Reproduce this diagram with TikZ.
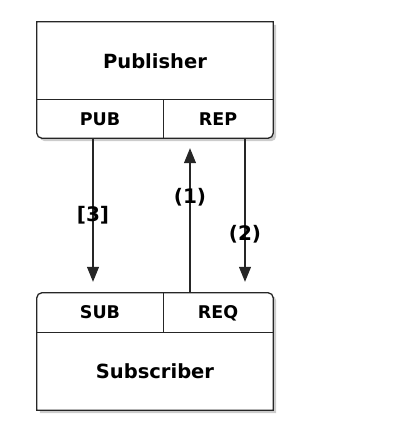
\documentclass[tikz,border=0pt]{standalone}
\usepackage{fontspec}
\setmainfont{DejaVu Sans}
\usetikzlibrary{arrows.meta}
\usetikzlibrary{shadows}
\usetikzlibrary{backgrounds}
\tikzset{cell/.style={rectangle, inner sep=0pt, text height=12.8pt, text depth=0pt,
    font=\bfseries\fontsize{17.5}{20}\selectfont}}
\tikzset{title/.style={cell, text height=14.2pt, font=\bfseries\fontsize{19.5}{23}\selectfont}}
\tikzset{outline/.style={draw=black!85, line width=1.3pt, fill=white,
    drop shadow={shadow xshift=3pt, shadow yshift=-3pt, fill=black!40}}}
\tikzset{msg/.style={draw=black!85, line width=1.1pt, -{Triangle[length=15pt,width=12pt]}}}
\tikzset{tag/.style={font=\bfseries\fontsize{20}{24}\selectfont}}

\begin{document}
\begin{tikzpicture}[x=1pt,y=-1pt]
  \useasboundingbox (0,0) rectangle (409,427);
  \foreach \x/\y/\w/\h/\st/\name/\lab in {
    155/61/236/78/title/Publisher/publisher,
    100/119/126/38/cell/PUB/pub,
    218/119/110/38/cell/REP/rep,
    100/312.5/126/39/cell/SUB/sub,
    218/312.5/110/39/cell/REQ/req,
    155/371/236/78/title/Subscriber/subscriber%
  } {
    \node[\st, minimum width=\w, minimum height=\h] (\lab) at (\x, \y) {\name};
  }
  \begin{scope}[on background layer]
    \draw[outline] (publisher.north west) -- (publisher.north east)
      [rounded corners=5pt] -- (rep.south east) -- (pub.south west)
      [sharp corners] -- cycle;
    \draw[outline] (subscriber.south west) -- (subscriber.south east)
      [rounded corners=5pt] -- (req.north east) -- (sub.north west)
      [sharp corners] -- cycle;
    \draw[draw=black!85, line width=1.3pt] (pub.north west) -- (rep.north east)
      (pub.north east) -- (pub.south east);
    \draw[draw=black!85, line width=1.3pt] (sub.south west) -- (req.south east)
      (sub.north east) -- (sub.south east);
  \end{scope}
  % messages
  \draw[msg, shorten >=11pt] ([xshift=-7pt]pub.south) -- ([xshift=-7pt]sub.north)
    node[tag, pos=.5] {[3]};
  \draw[msg, shorten >=10pt] ([xshift=-28pt]req.north) -- ([xshift=-28pt]rep.south)
    node[tag, pos=.62] {(1)};
  \draw[msg, shorten >=11pt] ([xshift=27pt]rep.south) -- ([xshift=27pt]req.north)
    node[tag, pos=.62] {(2)};
\end{tikzpicture}
\end{document}
